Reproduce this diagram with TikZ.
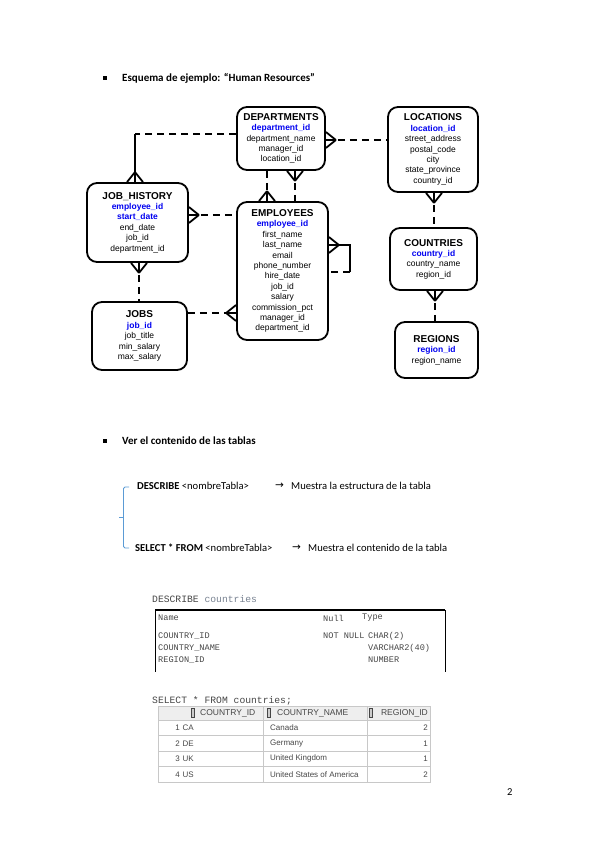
\documentclass[tikz,border=0pt]{standalone}
\usepackage{fontspec}
\setmainfont{Carlito}
\newfontfamily\erfont{Liberation Sans}
\newfontfamily\codefont{Liberation Mono}
\newfontfamily\symfont{DejaVu Sans}
\usetikzlibrary{calc,positioning}

\definecolor{pkblue}{RGB}{0,0,240}
\definecolor{bracketblue}{RGB}{91,155,213}
\definecolor{gridgray}{RGB}{200,200,200}
\definecolor{hdrgray}{RGB}{238,238,238}
\definecolor{codedark}{RGB}{70,70,70}
\definecolor{codelight}{RGB}{120,130,145}

\newcommand{\etitle}[1]{{\bfseries\fontsize{10}{10.4}\selectfont #1}}
\newcommand{\pkey}[1]{{\color{pkblue}\bfseries #1}}
% crow's foot: #1 = point on the box edge, #2 = angle away from the box
\newcommand{\crowfoot}[2]{%
  \draw[relsolid] ($(#1)+(#2:10)$) -- ($(#1)+(#2+90:8)$)
    ($(#1)+(#2:10)$) -- (#1)
    ($(#1)+(#2:10)$) -- ($(#1)+(#2-90:8)$);}

\tikzset{
  entity/.style={draw, line width=1.8pt, rounded corners=10pt, align=center,
    inner sep=0pt, font=\erfont\fontsize{8.5}{10.4}\selectfont},
  relsolid/.style={line width=1.8pt},
  rel/.style={line width=1.8pt, dash pattern=on 7pt off 5pt},
  bulletsq/.style={fill, inner sep=0pt, minimum size=3.6pt},
  bodytxt/.style={anchor=west, inner sep=0pt, font=\fontsize{10.6}{12}\selectfont},
  headtxt/.style={anchor=west, inner sep=0pt, font=\bfseries\fontsize{11}{13}\selectfont},
  arrowtxt/.style={anchor=west, inner sep=0pt, font=\symfont\fontsize{10.5}{11}\selectfont},
  codetxt/.style={anchor=west, inner sep=0pt, text=codedark, font=\codefont\fontsize{8.6}{10}\selectfont},
  gridtxt/.style={inner sep=0pt, text=codedark, font=\erfont\fontsize{8}{9}\selectfont},
}

\begin{document}
\begin{tikzpicture}[x=1pt,y=-1pt]
  \useasboundingbox (0,0) rectangle (599,848);

  % headings
  \node[bulletsq] (bul1) at (105,78) {};
  \node[headtxt] (head1) at (122,78) {Esquema de ejemplo: “Human Resources”};

  % entities
  \node[entity, minimum width=88, minimum height=63] (dept) at (281,138.5)
    {\etitle{DEPARTMENTS}\\ \pkey{department\_id}\\ department\_name\\ manager\_id\\ location\_id};
  \node[entity, minimum width=91, minimum height=138] (emp) at (282.5,271)
    {\etitle{EMPLOYEES}\\ \pkey{employee\_id}\\ first\_name\\ last\_name\\ email\\ phone\_number\\
     hire\_date\\ job\_id\\ salary\\ commission\_pct\\ manager\_id\\ department\_id};
  \node[entity, minimum width=101, minimum height=79] (jh) at (137.5,222.5)
    {\etitle{JOB\_HISTORY}\\ \pkey{employee\_id}\\ \pkey{start\_date}\\ end\_date\\ job\_id\\ department\_id};
  \node[entity, minimum width=95, minimum height=68] (jobs) at (139.5,336)
    {\etitle{JOBS}\\ \pkey{job\_id}\\ job\_title\\ min\_salary\\ max\_salary};
  \node[entity, minimum width=90, minimum height=85] (loc) at (433,149.5)
    {\etitle{LOCATIONS}\\ \pkey{location\_id}\\ street\_address\\ postal\_code\\ city\\ state\_province\\ country\_id};
  \node[entity, minimum width=87, minimum height=62] (cty) at (433.5,259)
    {\etitle{COUNTRIES}\\ \pkey{country\_id}\\ country\_name\\ region\_id};
  \node[entity, minimum width=83, minimum height=56] (reg) at (436.5,350)
    {\etitle{REGIONS}\\ \pkey{region\_id}\\ region\_name};

  % departments - locations
  \coordinate (dlA) at (dept.east |- 0,140);
  \coordinate (dlB) at (loc.west |- 0,140);
  \draw[rel] (dlA) -- (dlB);
  \crowfoot{dlA}{0}

  % departments - job_history
  \coordinate (djA) at (dept.west |- 0,134);
  \coordinate (djBend) at (135,134);
  \coordinate (djB) at (135,0 |- jh.north);
  \draw[rel] (djA) -- (djBend);
  \draw[relsolid] (djBend) -- (djB);
  \crowfoot{djB}{-90}

  % departments - employees
  \coordinate (deA) at (267,0 |- dept.south);
  \coordinate (deB) at (267,0 |- emp.north);
  \draw[rel] (deA) -- (deB);
  \crowfoot{deB}{-90}
  \coordinate (mgA) at (295,0 |- dept.south);
  \coordinate (mgB) at (295,0 |- emp.north);
  \draw[rel] (mgA) -- (mgB);
  \crowfoot{mgA}{90}

  % job_history - employees
  \coordinate (jeA) at (jh.east |- 0,215);
  \coordinate (jeB) at (emp.west |- 0,215);
  \draw[rel] (jeA) -- (jeB);
  \crowfoot{jeA}{0}

  % employees - employees (manager)
  \coordinate (selfA) at (emp.east |- 0,245);
  \coordinate (selfB) at (350,245);
  \coordinate (selfC) at (350,272);
  \coordinate (selfD) at (emp.east |- 0,272);
  \draw[relsolid] (selfA) -- (selfB) -- (selfC);
  \draw[rel] (selfC) -- (selfD);
  \crowfoot{selfA}{0}

  % job_history - jobs
  \coordinate (jjA) at (139,0 |- jh.south);
  \coordinate (jjB) at (139,0 |- jobs.north);
  \draw[rel] (jjA) -- (jjB);
  \crowfoot{jjA}{90}

  % jobs - employees
  \coordinate (joA) at (jobs.east |- 0,313);
  \coordinate (joB) at (emp.west |- 0,313);
  \draw[rel] (joA) -- (joB);
  \crowfoot{joB}{180}

  % locations - countries - regions
  \coordinate (lcA) at (434,0 |- loc.south);
  \coordinate (lcB) at (434,0 |- cty.north);
  \draw[rel] (lcA) -- (lcB);
  \crowfoot{lcA}{90}
  \coordinate (crA) at (435,0 |- cty.south);
  \coordinate (crB) at (435,0 |- reg.north);
  \draw[rel] (crA) -- (crB);
  \crowfoot{crA}{90}

  % second part
  \node[bulletsq] (bul2) at (105,441) {};
  \node[headtxt] (head2) at (122,441) {Ver el contenido de las tablas};

  \node[bodytxt] (cmd1) at (137,486) {\textbf{DESCRIBE} <nombreTabla>};
  \node[arrowtxt] (arr1) at (275,486) {→};
  \node[bodytxt] (txt1) at (291,486) {Muestra la estructura de la tabla};
  \node[bodytxt] (cmd2) at (135,548) {\textbf{SELECT * FROM} <nombreTabla>};
  \node[arrowtxt] (arr2) at (292,548) {→};
  \node[bodytxt] (txt2) at (308,548) {Muestra el contenido de la tabla};

  \draw[bracketblue, line width=0.8pt, rounded corners=1.5pt]
    (129,487) -- (123.5,487) -- (123.5,548) -- (129,548);
  \draw[bracketblue, line width=0.8pt] (123.5,517) -- (118.5,517);

  % DESCRIBE countries
  \node[codetxt, font=\codefont\fontsize{9.7}{11}\selectfont] (deschead) at (152,599)
    {DESCRIBE {\color{codelight}countries}};
  \draw[line width=1.6pt] (155,610) -- (445,610);
  \draw[line width=0.7pt] (155,610) -- (155,672) (445,610) -- (445,672);
  \node[codetxt] (dname) at (158,618) {Name};
  \node[codetxt] (dnull) at (323,618) {Null};
  \node[codetxt] (dtype) at (362,618) {Type};
  \foreach \y/\col/\nul/\typ in {636/COUNTRY\_ID/NOT NULL/CHAR(2),
      648/COUNTRY\_NAME//VARCHAR2(40), 660/REGION\_ID//NUMBER}
  {
    \node[codetxt] (dc\y) at (158,\y) {\col};
    \node[codetxt] (dn\y) at (323,\y) {\nul};
    \node[codetxt] (dt\y) at (368,\y) {\typ};
  }

  % SELECT * FROM countries
  \node[codetxt, font=\codefont\fontsize{9.7}{11}\selectfont] (selhead) at (152,701)
    {SELECT * FROM countries;};
  \fill[hdrgray] (158,706) rectangle (430,720);
  \draw[gridgray, line width=0.7pt] (158,706) rectangle (430,782);
  \foreach \y in {720,735.5,751,766.5}
    \draw[gridgray, line width=0.7pt] (158,\y) -- (430,\y);
  \foreach \x in {263,367}
    \draw[gridgray, line width=0.7pt] (\x,706) -- (\x,782);
  \foreach \x in {191,267,369}
    \draw[codedark, fill=gray!40, line width=0.4pt] (\x,708.5) rectangle +(3.5,9);
  \node[gridtxt, anchor=west, font=\erfont\fontsize{8.5}{9}\selectfont] (sh1) at (200,713) {COUNTRY\_ID};
  \node[gridtxt, anchor=west, font=\erfont\fontsize{8.5}{9}\selectfont] (sh2) at (277,713) {COUNTRY\_NAME};
  \node[gridtxt, anchor=east, font=\erfont\fontsize{8.5}{9}\selectfont] (sh3) at (428,713) {REGION\_ID};
  \foreach \i/\code/\cname/\reg/\y in {1/CA/Canada/2/727.75, 2/DE/Germany/1/743.25,
      3/UK/United Kingdom/1/758.75, 4/US/United States of America/2/774.25}
  {
    \node[gridtxt, anchor=east] (sn\i) at (180,\y) {\i};
    \node[gridtxt, anchor=west] (sc\i) at (182.5,\y) {\code};
    \node[gridtxt, anchor=west] (sm\i) at (270,\y) {\cname};
    \node[gridtxt, anchor=east] (sr\i) at (428,\y) {\reg};
  }

  % page number
  \node[bodytxt] (pagenum) at (507,792) {2};
\end{tikzpicture}
\end{document}
